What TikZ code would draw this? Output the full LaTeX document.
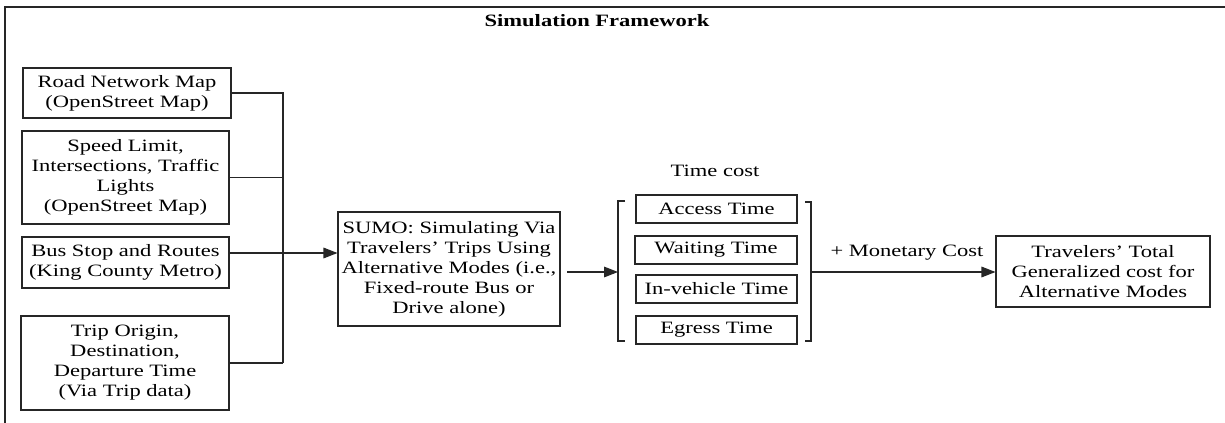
\documentclass[tikz,border=0pt]{standalone}
\usepackage{fontspec}
\setmainfont{Liberation Serif}[FakeStretch=1.3]
\usetikzlibrary{arrows.meta}
\newcommand{\mysize}{\fontsize{13}{15}\selectfont}
\begin{document}
\begin{tikzpicture}[x=0.75pt,y=-0.75pt,
  font=\mysize,
  line/.style={draw=black!85,line width=0.8pt},
  box/.style={line,inner sep=0pt,align=center,font=\mysize},
  arr/.style={line,-{Triangle[length=10.5pt,width=8pt]}}]
\useasboundingbox (0,0) rectangle (1225,422);
% outer frame (top and left edges visible)
\draw[line,line width=1pt] (5,440) -- (5,7) -- (1240,7);
\node[font=\mysize\bfseries] (title) at (597,21) {Simulation Framework};
% input boxes
\node[box,minimum width=156pt,minimum height=37.5pt] (b1) at (127,93) {Road Network Map\\(OpenStreet Map)};
\node[box,minimum width=155.25pt,minimum height=69.75pt] (b2) at (125.5,177.5) {Speed Limit,\\Intersections, Traffic\\Lights\\(OpenStreet Map)};
\node[box,minimum width=155.25pt,minimum height=38.25pt] (b3) at (125.5,262.5) {Bus Stop and Routes\\(King County Metro)};
\node[box,minimum width=156pt,minimum height=70.5pt] (b4) at (125,363) {Trip Origin,\\Destination,\\Departure Time\\(Via Trip data)};
% SUMO
\node[box,minimum width=166.5pt,minimum height=85.5pt] (sumo) at (449,269) {SUMO: Simulating Via\\Travelers' Trips Using\\Alternative Modes (i.e.,\\Fixed-route Bus or\\Drive alone)};
% time cost boxes
\node (tc) at (715,171) {Time cost};
\node[box,minimum width=120.75pt,minimum height=21pt] (t1) at (716.5,209) {Access Time};
\node[box,minimum width=121.5pt,minimum height=21pt] (t2) at (716,250) {Waiting Time};
\node[box,minimum width=120.75pt,minimum height=21pt] (t3) at (716.5,289) {In-vehicle Time};
\node[box,minimum width=120.75pt,minimum height=21pt] (t4) at (716.5,330) {Egress Time};
% brackets
\coordinate (lbT) at (618,201);
\coordinate (lbB) at (618,341);
\coordinate (rbT) at (811,202);
\coordinate (rbB) at (811,341);
\draw[line] ([xshift=5.25pt]lbT) -- (lbT) -- (lbB) -- ([xshift=5.25pt]lbB);
\draw[line] ([xshift=-4.5pt]rbT) -- (rbT) -- (rbB) -- ([xshift=-4.5pt]rbB);
% final box
\node[box,minimum width=160.5pt,minimum height=53.25pt] (fin) at (1103,271.5) {Travelers' Total\\Generalized cost for\\Alternative Modes};
% bus line
\coordinate (busB) at (283,363);
\draw[line] (b1.east) -| (busB);
\draw[line] (b2.east) -- (b2.east -| busB);
\draw[line] (b4.east) -- (busB);
\coordinate (a3) at (229,253);
\draw[arr] (a3) -- (a3 -| sumo.west);
% SUMO to bracket
\coordinate (s1) at (567,272);
\draw[arr] (s1) -- (s1 -| lbT);
% bracket to final
\coordinate (r1) at (811,272);
\draw[arr] (r1) -- (r1 -| fin.west);
\node (mc) at (907,253) {+ Monetary Cost};
\end{tikzpicture}
\end{document}
